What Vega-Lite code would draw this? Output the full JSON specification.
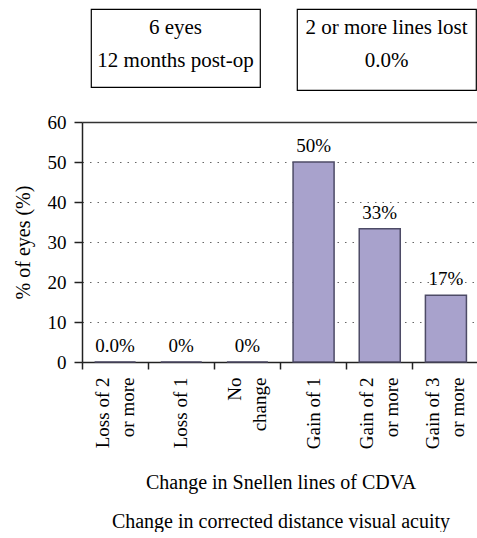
{
  "$schema": "https://vega.github.io/schema/vega-lite/v6.json",
  "padding": {"left": 13, "top": 8, "right": 0, "bottom": 0},
  "config": {
    "font": "Liberation Serif",
    "view": {"stroke": null},
    "axis": {
      "labelFont": "Liberation Serif",
      "titleFont": "Liberation Serif",
      "labelColor": "#000",
      "titleColor": "#000",
      "labelFontSize": 19,
      "titleFontSize": 20,
      "titleFontWeight": "normal",
      "domainColor": "#222",
      "tickColor": "#222",
      "domainWidth": 1.5,
      "tickWidth": 1.5
    }
  },
  "spacing": 22,
  "vconcat": [
    {
      "spacing": 7,
      "hconcat": [
        {
          "width": 1,
          "height": 1,
          "data": {"values": [{"note": ""}]},
          "mark": {"type": "text", "baseline": "top", "fontSize": 1},
          "encoding": {"text": {"field": "note"}}
        },
        {
          "spacing": 35,
          "hconcat": [
            {
              "width": 169,
              "height": 78,
              "view": {"stroke": "#000", "strokeWidth": 1.2},
              "data": {"values": [{"note": "6 eyes\n12 months post-op"}]},
              "mark": {"type": "text", "lineBreak": "\n", "fontSize": 21, "lineHeight": 33, "baseline": "middle", "dy": -20, "color": "#000"},
              "encoding": {"text": {"field": "note"}}
            },
            {
              "width": 179,
              "height": 81,
              "view": {"stroke": "#000", "strokeWidth": 1.2},
              "data": {"values": [{"note": "2 or more lines lost\n0.0%"}]},
              "mark": {"type": "text", "lineBreak": "\n", "fontSize": 21, "lineHeight": 33, "baseline": "middle", "dy": -21.5, "color": "#000"},
              "encoding": {"text": {"field": "note"}}
            }
          ]
        }
      ]
    },
    {
      "width": 397,
      "height": 240,
      "data": {"values": [
        {"change": "Loss of 2 or more", "pct": 0, "label": "0.0%"},
        {"change": "Loss of 1", "pct": 0, "label": "0%"},
        {"change": "No change", "pct": 0, "label": "0%"},
        {"change": "Gain of 1", "pct": 50, "label": "50%"},
        {"change": "Gain of 2 or more", "pct": 33.3, "label": "33%"},
        {"change": "Gain of 3 or more", "pct": 16.7, "label": "17%"}
      ]},
      "resolve": {"axis": {"x": "independent"}},
      "encoding": {
        "y": {
          "field": "pct",
          "type": "quantitative",
          "scale": {"domain": [0, 60]},
          "axis": {
            "title": "% of eyes (%)",
            "values": [0, 10, 20, 30, 40, 50, 60],
            "tickSize": 8,
            "labelPadding": 8,
            "titlePadding": 14,
            "grid": true,
            "gridDash": {"condition": {"test": "datum.value == 60", "value": []}, "value": [1.5, 6]},
            "gridColor": {"condition": {"test": "datum.value == 60", "value": "#333"}, "value": "#666"},
            "gridWidth": {"condition": {"test": "datum.value == 60", "value": 1.5}, "value": 1.2},
            "gridOpacity": {"condition": {"test": "datum.value == 0", "value": 0}, "value": 1}
          }
        }
      },
      "layer": [
        {
          "mark": {"type": "bar", "width": {"band": 0.62}, "fill": "#a8a2cc", "stroke": "#4d4b66", "strokeWidth": 1.5, "opacity": 1},
          "encoding": {
            "x": {
              "field": "change",
              "type": "nominal",
              "sort": null,
              "scale": {"paddingInner": 0, "paddingOuter": 0},
              "axis": {
                "orient": "bottom",
                "title": ["Change in Snellen lines of CDVA", "Change in corrected distance visual acuity"],
                "titleLineHeight": 39,
                "titlePadding": 24,
                "labelAngle": 270,
                "labelAlign": "right",
                "labelBaseline": "middle",
                "labelLineHeight": 25,
                "labelPadding": 15,
                "labelOffset": {"condition": {"test": "indexof(datum.value, ' or more') >= 0 || datum.value == 'No change'", "value": -12.5}, "value": 0},
                "labelExpr": "split(replace(replace(datum.value, ' or more', '|or more'), 'No change', 'No|change'), '|')",
                "ticks": false,
                "grid": false
              }
            }
          }
        },
        {
          "mark": {"type": "text", "baseline": "bottom", "dy": -6, "fontSize": 19, "color": "#000"},
          "encoding": {
            "x": {
              "field": "change",
              "type": "nominal",
              "sort": null,
              "axis": {
                "orient": "bottom",
                "title": null,
                "labels": false,
                "domain": false,
                "grid": false,
                "ticks": true,
                "tickSize": 7,
                "bandPosition": 0
              }
            },
            "text": {"field": "label"}
          }
        }
      ]
    }
  ]
}
